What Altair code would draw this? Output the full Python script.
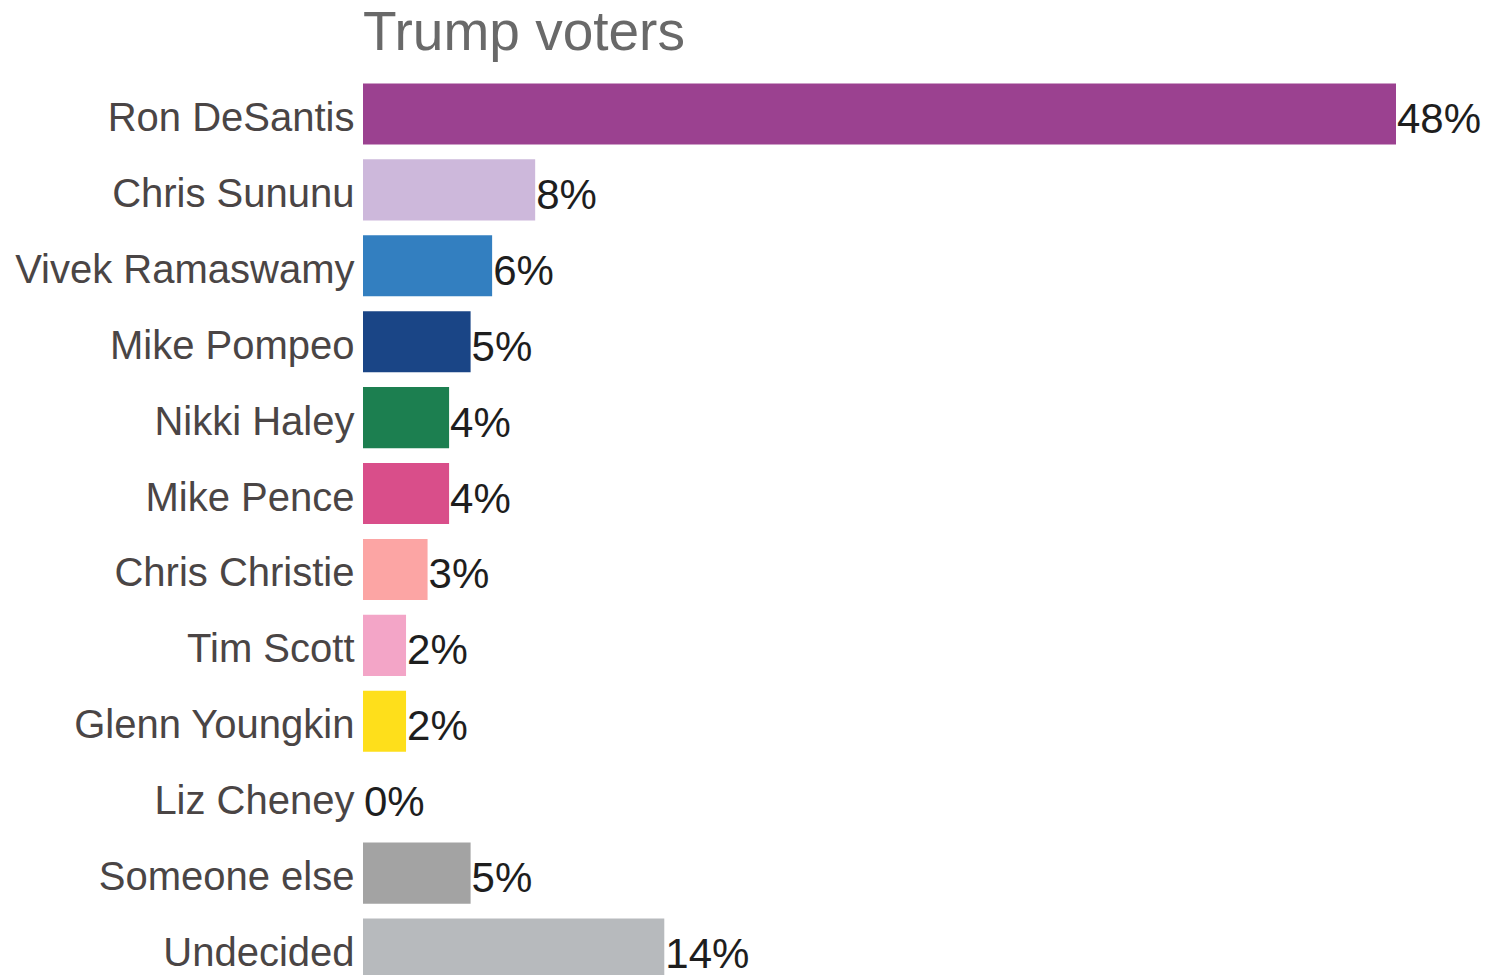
import altair as alt
import pandas as pd

candidates = ["Ron DeSantis", "Chris Sununu", "Vivek Ramaswamy", "Mike Pompeo",
              "Nikki Haley", "Mike Pence", "Chris Christie", "Tim Scott",
              "Glenn Youngkin", "Liz Cheney", "Someone else", "Undecided"]
values = [48, 8, 6, 5, 4, 4, 3, 2, 2, 0, 5, 14]
colors = ["#9b4190", "#cdb8db", "#337fc0", "#1a4586", "#1c7f50", "#d94e8a",
          "#fca5a4", "#f3a5c7", "#fedf1b", "#7f7f7f", "#a3a3a3", "#b7babd"]

df = pd.DataFrame({
    "candidate": candidates,
    "value": values,
    "label": [f"{v}%" for v in values],
})

FONT = "Liberation Sans"

y_enc = alt.Y("candidate:N", sort=candidates,
              scale=alt.Scale(paddingInner=0.196, paddingOuter=0.098, range=[0, 911]),
              axis=alt.Axis(title=None, ticks=False, domain=False, labelFontSize=40,
                            labelColor="#4a4545", labelFont=FONT, labelPadding=9,
                            labelLimit=600, grid=False, labelOffset=5))
x_enc = alt.X("value:Q", scale=alt.Scale(domain=[0, 48], nice=False, zero=True),
              axis=None)

bars = alt.Chart(df).mark_bar().encode(
    x=x_enc,
    y=y_enc,
    color=alt.Color("candidate:N", scale=alt.Scale(domain=candidates, range=colors),
                    legend=None),
)

text = alt.Chart(df).mark_text(align="left", baseline="middle", dx=1, dy=6,
                               fontSize=42, font=FONT, color="#1e1e1e").encode(
    x=x_enc,
    y=y_enc,
    text="label:N",
)

chart = alt.layer(bars, text).properties(
    width=1033,
    height=899,
    title=alt.TitleParams("Trump voters", anchor="start", frame="group", fontSize=55,
                          font=FONT, fontWeight="normal", color="#696969", offset=14),
    autosize=alt.AutoSizeParams(type="none"),
    padding={"left": 355, "top": 68, "right": 85, "bottom": 0},
).configure_view(stroke=None)

chart.save("out.html", embed_options={"renderer": "svg", "actions": False})
